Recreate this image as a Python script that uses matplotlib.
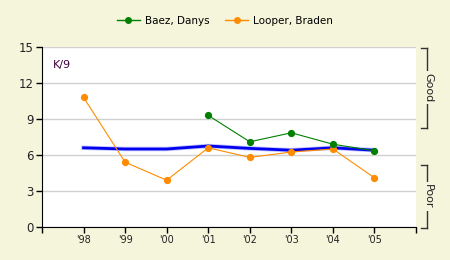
import matplotlib
matplotlib.use("Agg")
import matplotlib.pyplot as plt
from matplotlib.lines import Line2D

years = ["'98", "'99", "'00", "'01", "'02", "'03", "'04", "'05"]
looper = [10.8, 5.4, 3.9, 6.6, 5.8, 6.25, 6.5, 4.1]
baez_years = ["'01", "'02", "'03", "'04", "'05"]
baez = [9.3, 7.1, 7.85, 6.9, 6.35]
league = [6.6, 6.5, 6.5, 6.75, 6.55, 6.4, 6.6, 6.4]
yticks = [0, 3, 6, 9, 12, 15]

bg = "#f5f5dc"
fig = plt.figure(figsize=(4.5, 2.6), dpi=100, facecolor=bg)
ax = fig.add_axes([42/450, 1-227/260, 374/450, 180/260])
ax.set_facecolor("white")

xs = list(range(len(years)))
bx = [years.index(y) for y in baez_years]

ax.plot(xs, league, color="#8080ff", lw=3.2, alpha=0.5, zorder=2)
ax.plot(xs, league, color="#0000ee", lw=2.0, zorder=3)
ax.plot(xs, looper, color="#ff8c00", lw=0.8, marker="o", ms=4.2, zorder=4)
ax.plot(bx, baez, color="#008000", lw=0.8, marker="o", ms=4.2, zorder=5)

ax.set_xlim(-1, 8)
ax.set_ylim(0, 15)
ax.set_yticks(yticks)
ax.set_yticklabels([str(v) for v in yticks], fontsize=8.5, color="#222222")
ax.set_xticks(list(range(-1, 9)))
ax.set_xticklabels([""] + years + [""], fontsize=7, color="#222222")
ax.yaxis.grid(True, color="#d0d0d0", lw=1)
ax.set_axisbelow(True)
for s in ["top", "right"]:
    ax.spines[s].set_visible(False)
ax.tick_params(direction="out", length=4, width=1, pad=2)
ax.text(0.03, 0.93, "K/9", transform=ax.transAxes, fontsize=8, color="#400040", va="top")

# Good / Poor brackets
def bracket(y0, y1, label):
    X = 427/450
    t0 = 1 - y0/260
    t1 = 1 - y1/260
    fig.add_artist(Line2D([X, X], [t0, t1], color="#333333", lw=1, transform=fig.transFigure))
    fig.add_artist(Line2D([421/450, X], [t0, t0], color="#333333", lw=1, transform=fig.transFigure))
    fig.add_artist(Line2D([421/450, X], [t1, t1], color="#333333", lw=1, transform=fig.transFigure))
    fig.text(X + 1/450, (t0+t1)/2, label, rotation=-90, ha="center", va="center", fontsize=8,
             color="#222222", bbox=dict(facecolor=bg, edgecolor="none", pad=1.5))

bracket(47.5, 127.5, "Good")
bracket(165, 227.5, "Poor")

handles = [Line2D([], [], color="#008000", marker="o", ms=4, lw=1),
           Line2D([], [], color="#ff8c00", marker="o", ms=4, lw=1)]
fig.legend(handles, ["Baez, Danys", "Looper, Braden"], loc="center", bbox_to_anchor=(0.5, 1-21/260),
           ncol=2, frameon=False, fontsize=7.5, handlelength=2.2, columnspacing=1.5, handletextpad=0.5)

fig.savefig("out.png", dpi=100, facecolor=bg)
